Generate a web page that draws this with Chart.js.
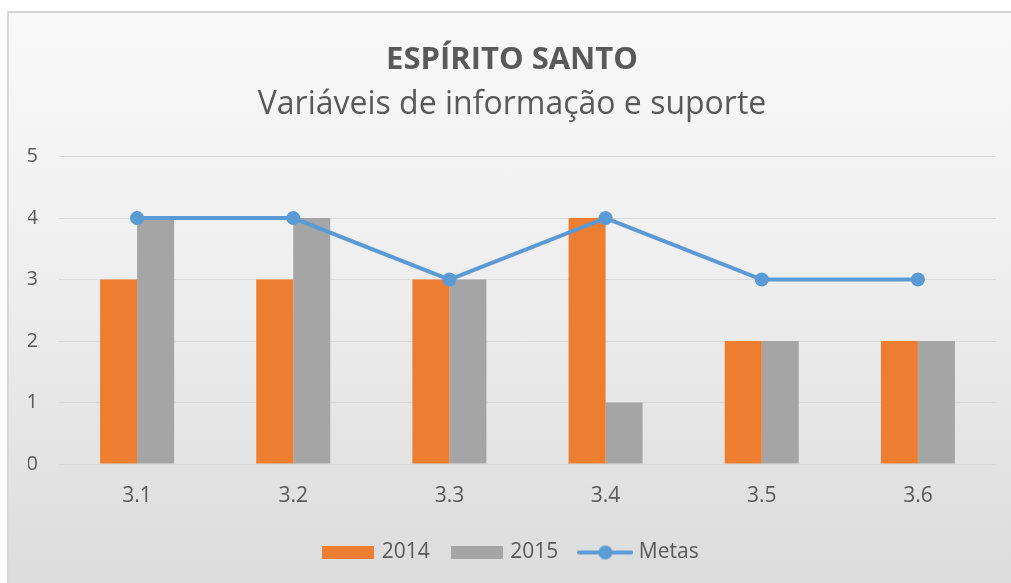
<!DOCTYPE html>
<html>
<head>
<meta charset="utf-8">
<script src="https://cdn.jsdelivr.net/npm/chart.js@4"></script>
<style>
  html, body { margin: 0; padding: 0; background: #fff; }
  #box {
    position: absolute; left: 7px; top: 11px; width: 1004px; height: 572px;
    box-sizing: border-box; border-top: 2px solid #d4d4d4; border-left: 2px solid #d9d9d9;
    background: linear-gradient(to bottom, #f9f9f9 0%, #f0f0f0 40%, #dcdcdc 100%);
  }
  canvas { display: block; }
</style>
</head>
<body>
<div id="box"><canvas id="chart" width="1002" height="570"></canvas></div>
<script>
const categories = ["3.1", "3.2", "3.3", "3.4", "3.5", "3.6"];
const values2014 = [3, 3, 3, 4, 2, 2];
const values2015 = [4, 4, 3, 1, 2, 2];
const metas = [4, 4, 3, 4, 3, 3];
const yTicks = [0, 1, 2, 3, 4, 5];

const font = "'Open Sans', 'DejaVu Sans', sans-serif";
const textColor = "#595959";
const orange = "#ed7d31";
const gray = "#a5a5a5";
const blue = "#5b9bd5";

// legend swatches drawn as small canvases
function boxSwatch(color) {
  const c = document.createElement("canvas");
  c.width = 52;
  c.height = 13;
  const g = c.getContext("2d");
  g.fillStyle = color;
  g.fillRect(0, 0, 52, 13);
  return c;
}
function lineSwatch(color) {
  const c = document.createElement("canvas");
  c.width = 56;
  c.height = 16;
  const g = c.getContext("2d");
  g.strokeStyle = color;
  g.lineWidth = 4;
  g.lineCap = "round";
  g.beginPath();
  g.moveTo(2, 8);
  g.lineTo(54, 8);
  g.stroke();
  g.fillStyle = color;
  g.beginPath();
  g.arc(28, 8, 7, 0, Math.PI * 2);
  g.fill();
  return c;
}
const swatches = { "2014": boxSwatch(orange), "2015": boxSwatch(gray), "Metas": lineSwatch(blue) };

const ctx = document.getElementById("chart").getContext("2d");
const chart = new Chart(ctx, {
  type: "bar",
  data: {
    labels: categories,
    datasets: [
      {
        type: "line",
        label: "Metas",
        data: metas,
        borderColor: blue,
        backgroundColor: blue,
        borderWidth: 4,
        pointRadius: 7,
        pointHoverRadius: 7,
        pointBackgroundColor: blue,
        pointBorderWidth: 0,
        tension: 0,
        order: 0,
      },
      {
        label: "2014",
        data: values2014,
        backgroundColor: orange,
        categoryPercentage: 0.474,
        barPercentage: 1,
        order: 1,
      },
      {
        label: "2015",
        data: values2015,
        backgroundColor: gray,
        categoryPercentage: 0.474,
        barPercentage: 1,
        order: 1,
      },
    ],
  },
  options: {
    responsive: false,
    animation: false,
    layout: { padding: { left: 19, right: 15, top: 0, bottom: 10 } },
    plugins: {
      title: {
        display: true,
        text: "ESPÍRITO SANTO",
        color: textColor,
        font: { family: font, size: 31, weight: "bold" },
        padding: { top: 29, bottom: 6 },
      },
      subtitle: {
        display: true,
        text: "Variáveis de informação e suporte",
        color: textColor,
        font: { family: font, size: 32 },
        padding: { top: 0, bottom: 33 },
      },
      legend: {
        position: "bottom",
        labels: {
          color: textColor,
          font: { family: font, size: 21 },
          usePointStyle: true,
          pointStyleWidth: 46,
          boxHeight: 13,
          padding: 24,
          generateLabels: (c) => {
            const order = ["2014", "2015", "Metas"];
            return order.map((name) => {
              const i = c.data.datasets.findIndex((d) => d.label === name);
              return {
                text: name,
                pointStyle: swatches[name],
                fillStyle: "transparent",
                strokeStyle: "transparent",
                lineWidth: 0,
                fontColor: textColor,
                hidden: false,
                datasetIndex: i,
              };
            });
          },
        },
      },
      tooltip: { enabled: false },
    },
    scales: {
      x: {
        grid: { display: false, drawTicks: false },
        border: { display: false },
        ticks: { color: textColor, font: { family: font, size: 21 }, padding: 19 },
        afterFit: (axis) => { axis.height = 54; },
      },
      y: {
        min: 0,
        max: 5,
        afterBuildTicks: (axis) => { axis.ticks = yTicks.map((v) => ({ value: v })); },
        grid: { color: "#d9d9d9", drawTicks: false },
        border: { display: false },
        ticks: { color: textColor, font: { family: font, size: 20 }, padding: 21 },
        afterFit: (axis) => { axis.width = 31; },
      },
    },
  },
});
</script>
</body>
</html>
